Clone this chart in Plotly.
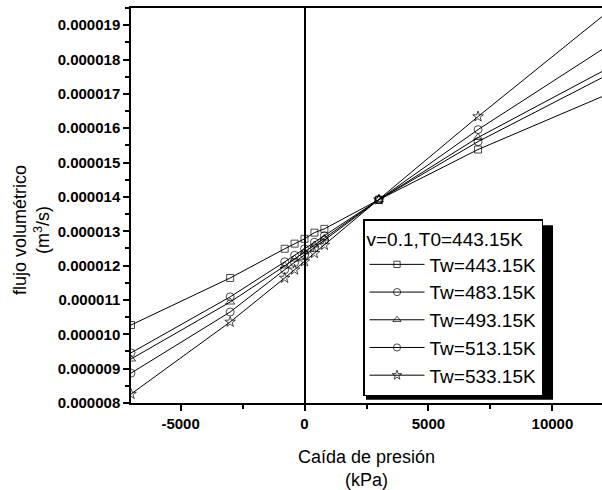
import plotly.graph_objects as go

pressure_kpa = [-7000, -3000, -800, -400, 0, 400, 800, 3000, 7000, 12000]

flow_tw443 = [10.27e-6, 11.64e-6, 12.49e-6, 12.64e-6, 12.78e-6, 12.96e-6, 13.07e-6, 13.92e-6, 15.38e-6, 16.92e-6]
flow_tw483 = [9.46e-6, 11.09e-6, 12.11e-6, 12.30e-6, 12.49e-6, 12.68e-6, 12.87e-6, 13.92e-6, 15.61e-6, 17.47e-6]
flow_tw493 = [9.28e-6, 10.94e-6, 11.99e-6, 12.19e-6, 12.40e-6, 12.60e-6, 12.80e-6, 13.92e-6, 15.73e-6, 17.65e-6]
flow_tw513 = [8.87e-6, 10.65e-6, 11.88e-6, 12.09e-6, 12.31e-6, 12.52e-6, 12.74e-6, 13.92e-6, 15.96e-6, 18.29e-6]
flow_tw533 = [8.26e-6, 10.36e-6, 11.64e-6, 11.88e-6, 12.12e-6, 12.36e-6, 12.60e-6, 13.92e-6, 16.34e-6, 19.25e-6]

series_names = ["Tw=443.15K", "Tw=483.15K", "Tw=493.15K", "Tw=513.15K", "Tw=533.15K"]
series_values = [flow_tw443, flow_tw483, flow_tw493, flow_tw513, flow_tw533]
symbols = ["square-open", "circle-open", "triangle-up-open", "circle-open", "star-open"]
sizes = [7, 8, 8, 8, 8]

y_tickvals = [8e-6, 9e-6, 10e-6, 11e-6, 12e-6, 13e-6, 14e-6, 15e-6, 16e-6, 17e-6, 18e-6, 19e-6]
x_tickvals = [-5000, 0, 5000, 10000]

FONT = "Arial, Liberation Sans, sans-serif"

fig = go.Figure()
for name, vals, sym, sz in zip(series_names, series_values, symbols, sizes):
    n = len(vals)
    fig.add_trace(go.Scatter(
        x=pressure_kpa, y=vals, name=name, mode="lines+markers",
        line=dict(color="black", width=1),
        marker=dict(symbol=sym, size=[sz] * (n - 1) + [0], color="black",
                    line=dict(color="black", width=1)),
    ))

fig.update_layout(
    width=602, height=490,
    margin=dict(l=131, r=0, t=8, b=87),
    paper_bgcolor="white", plot_bgcolor="white",
    font=dict(family=FONT, color="black"),
    showlegend=True,
    legend=dict(
        x=0.4926, y=0.465, xanchor="left", yanchor="top",
        bgcolor="white", bordercolor="black", borderwidth=1.5,
        font=dict(size=19, family=FONT, color="black"),
        title=dict(text="v=0.1,T0=443.15K", font=dict(size=19, family=FONT, color="black")),
        itemwidth=55, tracegroupgap=0,
    ),
    shapes=[dict(type="rect", xref="paper", yref="paper",
                 x0=0.4989, x1=0.896, y0=0.008, y1=0.45,
                 fillcolor="black", line=dict(width=0), layer="above")],
    annotations=[
        dict(text="Caída de presión<br>(kPa)", xref="paper", yref="paper",
             x=0.5, y=-0.1646, xanchor="center", yanchor="middle", showarrow=False,
             font=dict(size=18, family=FONT, color="black")),
        dict(text="flujo volumétrico<br>(m<sup>3</sup>/s)", xref="paper", yref="paper",
             x=-0.21, y=0.438, xanchor="center", yanchor="middle", showarrow=False,
             textangle=-90, font=dict(size=18, family=FONT, color="black")),
    ],
)

fig.update_xaxes(
    range=[-7000, 12000], tickvals=x_tickvals, ticktext=[str(v) for v in x_tickvals],
    showgrid=False, showline=True, linecolor="black", linewidth=1.5, mirror=True,
    ticks="outside", ticklen=6, tickwidth=1.5, tickcolor="black",
    tickfont=dict(size=15, family=FONT, color="black", weight="bold"),
    minor=dict(ticks="outside", ticklen=4, tickwidth=1.5, tickcolor="black", dtick=2500, showgrid=False),
    zeroline=True, zerolinecolor="black", zerolinewidth=1.5,
)
fig.update_yaxes(
    range=[8e-6, 19.5e-6], tickvals=y_tickvals, tickformat=".6f",
    showgrid=False, showline=True, linecolor="black", linewidth=1.5,
    ticks="outside", ticklen=6, tickwidth=1.5, tickcolor="black",
    tickfont=dict(size=15, family=FONT, color="black", weight="bold"),
    minor=dict(ticks="outside", ticklen=4, tickwidth=1.5, tickcolor="black", dtick=0.5e-6, showgrid=False),
    zeroline=False,
)

fig.write_html("out.html")
